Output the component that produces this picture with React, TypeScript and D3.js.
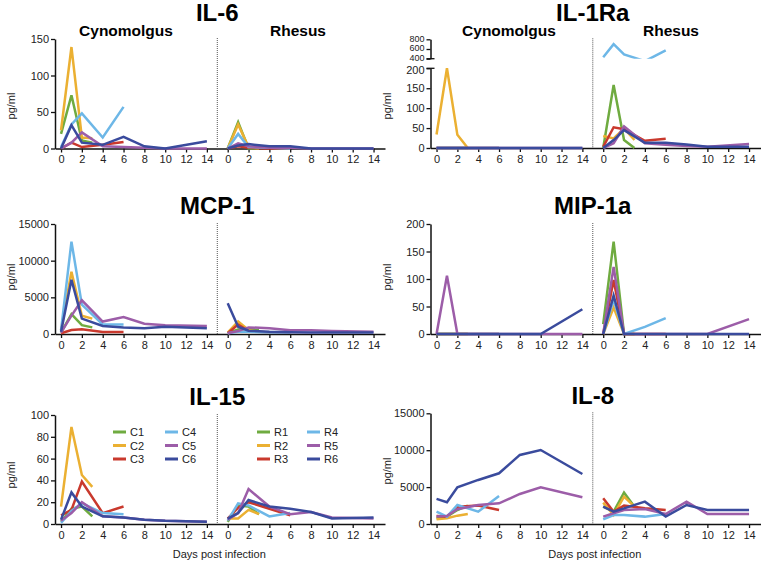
import React, { useEffect, useRef } from 'react';
import * as d3 from 'd3';

// sampling days, shared by every animal (null = not sampled)
const days = [0, 1, 2, 3, 4, 6, 8, 10, 14];
const cynoIds = ['C1', 'C2', 'C3', 'C4', 'C5', 'C6'];
const rhesusIds = ['R1', 'R2', 'R3', 'R4', 'R5', 'R6'];
const seriesColors = ['#6fab40', '#ebb032', '#c9392d', '#6db7e7', '#9c5da8', '#3a4b9d'];
const xTicks = [0, 2, 4, 6, 8, 10, 12, 14];
const rhesusOffset = 16;

const il6Ticks = [0, 50, 100, 150];
const il1raTicks = [0, 50, 100, 150, 200];
const il1raUpperTicks = [400, 600, 800];
const mcp1Ticks = [0, 5000, 10000, 15000];
const mip1aTicks = [0, 50, 100, 150, 200];
const il15Ticks = [0, 20, 40, 60, 80, 100];
const il8Ticks = [0, 5000, 10000, 15000];

const _ = null;

const il6Cyno = [
  [20, 73, 11, 8, _, _, _, _, _],
  [25, 139, 15, 14, _, _, _, _, _],
  [0, 8, 2, _, 5, 9, _, _, _],
  [2, 33, 48, _, 15, 57, _, _, _],
  [0, 8, 22, _, 3, 2, 1, 0, 0],
  [0, 32, 8, _, 5, 16, 3, 0, 10],
];
const il6Rhesus = [
  [0, 36, 0, 0, _, _, _, _, _],
  [0, 33, 2, 0, _, _, _, _, _],
  [0, 3, 1, _, 0, 0, _, _, _],
  [0, 20, 2, _, 1, 0, _, _, _],
  [0, 7, 3, _, 1, 1, 0, 0, 0],
  [0, 4, 6, _, 3, 3, 0, 0, 0],
];

const il1raCyno = [
  [0, 0, 0, 0, _, _, _, _, _],
  [34, 200, 33, 0, _, _, _, _, _],
  [0, 0, 0, _, 0, 0, _, _, _],
  [0, 0, 0, _, 0, 0, _, _, _],
  [0, 0, 0, _, 0, 0, 0, 0, 0],
  [0, 0, 0, _, 0, 0, 0, 0, 0],
];
const il1raRhesus = [
  [0, 158, 20, 0, _, _, _, _, _],
  [30, 24, 49, 20, _, _, _, _, _],
  [3, 52, 47, _, 18, 23, _, _, _],
  [430, 700, 490, _, 350, 570, _, _, _],
  [0, 12, 54, _, 12, 8, 5, 3, 10],
  [0, 20, 45, _, 13, 13, 9, 3, 3],
];

const mcp1Cyno = [
  [200, 2700, 1200, 900, _, _, _, _, _],
  [500, 8500, 2500, 2100, _, _, _, _, _],
  [100, 550, 640, _, 270, 270, _, _, _],
  [500, 12600, 4000, _, 1300, 1300, _, _, _],
  [200, 2500, 4600, _, 1700, 2300, 1400, 1200, 1100],
  [300, 7400, 2100, _, 1100, 900, 800, 1000, 800],
];
const mcp1Rhesus = [
  [150, 600, 700, 500, _, _, _, _, _],
  [200, 1700, 550, 300, _, _, _, _, _],
  [100, 1300, 400, _, 200, 200, _, _, _],
  [100, 300, 300, _, 200, 200, _, _, _],
  [100, 400, 900, _, 800, 500, 500, 400, 300],
  [4200, 1000, 450, _, 300, 250, 200, 200, 200],
];

const mip1aCyno = [
  [0, 0, 0, 0, _, _, _, _, _],
  [0, 0, 0, 0, _, _, _, _, _],
  [0, 0, 0, _, 0, 0, _, _, _],
  [0, 0, 0, _, 0, 0, _, _, _],
  [0, 106, 0, _, 0, 0, 0, 0, 0],
  [0, 0, 0, _, 0, 0, 0, 0, 45],
];
const mip1aRhesus = [
  [18, 168, 0, 0, _, _, _, _, _],
  [0, 48, 0, 0, _, _, _, _, _],
  [0, 98, 0, _, 0, 0, _, _, _],
  [0, 62, 0, _, 13, 29, _, _, _],
  [0, 122, 0, _, 0, 0, 0, 0, 27],
  [0, 70, 0, _, 0, 0, 0, 0, 0],
];

const il15Cyno = [
  [2, 14, 16, 7, _, _, _, _, _],
  [16, 89, 45, 34, _, _, _, _, _],
  [8, 13, 39, _, 10, 16, _, _, _],
  [1, 12, 19, _, 10, 9, _, _, _],
  [3, 10, 20, _, 7, 6, 4, 3, 2],
  [4, 29, 16, _, 7, 6, 4, 3, 2],
];
const il15Rhesus = [
  [2, 17, 16, 9, _, _, _, _, _],
  [5, 5, 13, 9, _, _, _, _, _],
  [5, 15, 20, _, 14, 8, _, _, _],
  [3, 19, 17, _, 7, 10, _, _, _],
  [4, 10, 32, _, 16, 9, 11, 6, 5],
  [5, 10, 22, _, 16, 14, 11, 5, 6],
];

const il8Cyno = [
  [770, 1000, 1900, 2490, _, _, _, _, _],
  [630, 770, 1130, 1360, _, _, _, _, _],
  [1080, 1000, 2350, _, 2490, 1900, _, _, _],
  [1670, 1000, 2580, _, 1670, 3800, _, _, _],
  [1000, 1100, 2000, _, 2580, 2800, 4070, 4970, 3620],
  [3400, 2940, 4970, _, 5970, 6870, 9360, 10030, 6780],
];
const il8Rhesus = [
  [2350, 1670, 4250, 2350, _, _, _, _, _],
  [2900, 1220, 3700, 2350, _, _, _, _, _],
  [3480, 1670, 2490, _, 2120, 1900, _, _, _],
  [630, 1220, 1220, _, 1000, 1360, _, _, _],
  [1000, 1450, 1900, _, 2030, 1360, 3030, 1360, 1360],
  [2350, 1670, 2120, _, 3030, 1000, 2580, 1900, 1900],
];

const FONT = '"Liberation Sans", Arial, Helvetica, sans-serif';

const panels: any[] = [
  { title: 'IL-6', ax: 55, top: 39, bottom: 148.5, max: 150, ticks: il6Ticks, cyno: il6Cyno, rhesus: il6Rhesus,
    titleY: 21, labelY: 106, species: [126, 298] },
  { title: 'IL-1Ra', ax: 430.5, top: 68.3, bottom: 148, max: 200, ticks: il1raTicks, cyno: il1raCyno, rhesus: il1raRhesus,
    titleY: 21, labelY: 106, species: [509, 671], upper: { top: 39.3, bottom: 58.7, min: 400, max: 800, ticks: il1raUpperTicks } },
  { title: 'MCP-1', ax: 55, top: 224, bottom: 334, max: 15000, ticks: mcp1Ticks, cyno: mcp1Cyno, rhesus: mcp1Rhesus,
    titleY: 214, labelY: 277 },
  { title: 'MIP-1a', ax: 430.5, top: 224, bottom: 334, max: 200, ticks: mip1aTicks, cyno: mip1aCyno, rhesus: mip1aRhesus,
    titleY: 214, labelY: 277 },
  { title: 'IL-15', ax: 55, top: 415, bottom: 524, max: 100, ticks: il15Ticks, cyno: il15Cyno, rhesus: il15Rhesus,
    titleY: 405, labelY: 475, xLabel: true, legend: [[113, 165], [257, 307]] },
  { title: 'IL-8', ax: 430.5, top: 413.3, bottom: 524, max: 15000, ticks: il8Ticks, cyno: il8Cyno, rhesus: il8Rhesus,
    titleY: 404, labelY: 471, xLabel: true },
];

function styleAxis(sel: any, size = 11) {
  sel.attr('font-family', FONT).attr('font-size', size);
  sel.select('.domain').attr('stroke', '#111').attr('stroke-width', 1.5);
  sel.selectAll('.tick line').attr('stroke', '#111').attr('stroke-width', 1.3);
  sel.selectAll('.tick text').attr('fill', '#222');
}

function drawFigure(el: SVGSVGElement) {
  const svg = d3.select(el);
  svg.selectAll('*').remove();

  const xTickPos = xTicks.concat(xTicks.map(t => t + rhesusOffset));
  const plain = (d: any) => String(d);

  panels.forEach((p, pi) => {
    const g = svg.append('g');
    const x = d3.scaleLinear().domain([-0.58, 31.1]).range([p.ax, p.ax + 330]);
    const y = d3.scaleLinear().domain([0, p.max]).range([p.bottom, p.top]);
    const plotTop = p.upper ? p.upper.top : p.top;

    // x axis
    const xa = g.append('g')
      .attr('transform', `translate(0,${p.bottom})`)
      .call(d3.axisBottom(x).tickValues(xTickPos)
        .tickFormat((d: any) => String(d >= rhesusOffset ? d - rhesusOffset : d))
        .tickSize(4).tickSizeOuter(0).tickPadding(3));
    styleAxis(xa);

    // y axis
    const ya = g.append('g')
      .attr('transform', `translate(${p.ax},0)`)
      .call(d3.axisLeft(y).tickValues(p.ticks).tickFormat(plain).tickSize(4).tickSizeOuter(0).tickPadding(2));
    styleAxis(ya);

    let yUp: any = null;
    if (p.upper) {
      // top tick of the lower segment sits close to the break: nudge its label down a little
      ya.selectAll('.tick text').filter((d: any) => d === p.max).attr('dy', '0.5em');
      yUp = d3.scaleLinear().domain([p.upper.min, p.upper.max]).range([p.upper.bottom, p.upper.top]);
      const ua = g.append('g')
        .attr('transform', `translate(${p.ax},0)`)
        .call(d3.axisLeft(yUp).tickValues(p.upper.ticks).tickFormat(plain).tickSize(4).tickSizeOuter(0).tickPadding(2));
      styleAxis(ua, 9);
      ua.selectAll('.tick text').attr('dy', '0.2em');
      // break marks
      [y(p.max), yUp(p.upper.min)].forEach(by => {
        g.append('line').attr('x1', p.ax - 4).attr('x2', p.ax + 4).attr('y1', by).attr('y2', by)
          .attr('stroke', '#111').attr('stroke-width', 1.3);
      });
    }

    // divider between species
    g.append('line')
      .attr('x1', x(15)).attr('x2', x(15))
      .attr('y1', plotTop - 1).attr('y2', p.bottom)
      .attr('stroke', '#555').attr('stroke-width', 1).attr('stroke-dasharray', '1,1');

    // lines
    const drawSeries = (ys: any, clipId: string | null) => {
      const line = d3.line<any>().x(d => x(d[0])).y(d => ys(d[1]));
      const lg = g.append('g');
      if (clipId) lg.attr('clip-path', `url(#${clipId})`);
      [[p.cyno, 0], [p.rhesus, rhesusOffset]].forEach(([series, off]: any) => {
        series.forEach((vals: any[], i: number) => {
          const pts = days.map((d, j) => [d + off, vals[j]]).filter(d => d[1] != null);
          lg.append('path').datum(pts)
            .attr('d', line)
            .attr('fill', 'none')
            .attr('stroke', seriesColors[i])
            .attr('stroke-width', 2.5);
        });
      });
    };

    if (p.upper) {
      const defs = svg.append('defs');
      defs.append('clipPath').attr('id', `clipLow${pi}`).append('rect')
        .attr('x', p.ax).attr('y', p.top - 2).attr('width', 340).attr('height', p.bottom - p.top + 6);
      defs.append('clipPath').attr('id', `clipUp${pi}`).append('rect')
        .attr('x', p.ax).attr('y', p.upper.top - 4).attr('width', 340).attr('height', p.upper.bottom - p.upper.top + 4);
      drawSeries(y, `clipLow${pi}`);
      drawSeries(yUp, `clipUp${pi}`);
    } else {
      drawSeries(y, null);
    }

    // title
    g.append('text')
      .attr('x', x(15)).attr('y', p.titleY)
      .attr('text-anchor', 'middle')
      .attr('font-family', FONT).attr('font-weight', 'bold').attr('font-size', 24)
      .attr('fill', '#000')
      .text(p.title);

    // y label
    g.append('text')
      .attr('transform', `translate(${p.ax - 40},${p.labelY}) rotate(-90)`)
      .attr('text-anchor', 'middle')
      .attr('font-family', FONT).attr('font-size', 11)
      .attr('fill', '#222')
      .text('pg/ml');

    if (p.species) {
      ['Cynomolgus', 'Rhesus'].forEach((s, k) => {
        g.append('text')
          .attr('x', p.species[k]).attr('y', 36)
          .attr('text-anchor', 'middle')
          .attr('font-family', FONT).attr('font-weight', 'bold').attr('font-size', 15.5)
          .attr('fill', '#000')
          .text(s);
      });
    }

    if (p.xLabel) {
      g.append('text')
        .attr('x', x(15) + 2).attr('y', 558)
        .attr('text-anchor', 'middle')
        .attr('font-family', FONT).attr('font-size', 11)
        .attr('fill', '#222')
        .text('Days post infection');
    }

    if (p.legend) {
      [cynoIds, rhesusIds].forEach((ids, s) => {
        ids.forEach((id, i) => {
          const col = Math.floor(i / 3);
          const row = i % 3;
          const lx = p.legend[s][col];
          const ly = 432 + row * 13.5;
          g.append('line')
            .attr('x1', lx).attr('x2', lx + 13).attr('y1', ly).attr('y2', ly)
            .attr('stroke', seriesColors[i]).attr('stroke-width', 3);
          g.append('text')
            .attr('x', lx + 17).attr('y', ly + 4)
            .attr('font-family', FONT).attr('font-size', 11)
            .attr('fill', '#222')
            .text(id);
        });
      });
    }
  });
}

const App = () => {
  const ref = useRef<SVGSVGElement>(null);

  useEffect(() => {
    document.body.style.margin = '0';
    if (ref.current) drawFigure(ref.current);
  }, []);

  return <svg ref={ref} width={762} height={564} style={{ display: 'block', background: '#fff' }} />;
};

export default App;
